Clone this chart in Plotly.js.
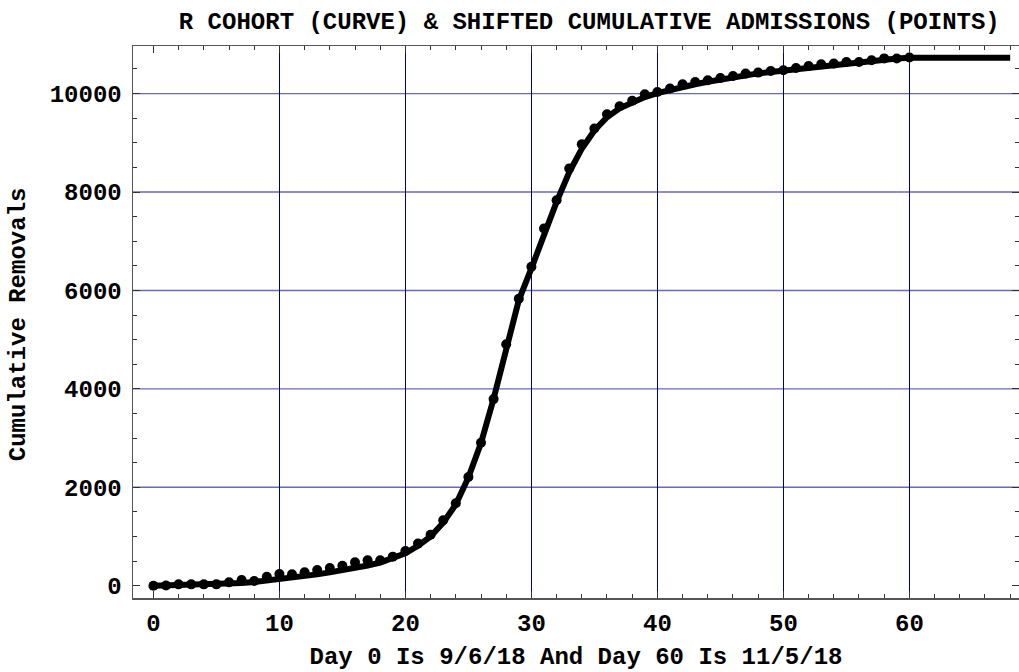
<!DOCTYPE html>
<html>
<head>
<meta charset="utf-8">
<script src="https://cdn.plot.ly/plotly-3.0.1.min.js"></script>
<style>
html, body { margin: 0; padding: 0; background: #fff; }
#chart { width: 1019px; height: 672px; }
</style>
</head>
<body>
<div id="chart"></div>
<script>
// Shifted cumulative admissions (points), day 0..60
const pointDays = [];
for (let d = 0; d <= 60; d++) pointDays.push(d);
const pointValues = [
  0, 5, 27, 27, 27, 27, 68, 116, 95, 183,
  238, 231, 271, 319, 359, 407, 474, 515, 515, 590,
  705, 855, 1035, 1330, 1675, 2210, 2905, 3792, 4905, 5830,
  6480, 7258, 7833, 8477, 8970, 9289, 9580, 9742, 9855, 9985,
  10033, 10105, 10189, 10236, 10270, 10317, 10358, 10406, 10426, 10459,
  10473, 10520, 10561, 10595, 10609, 10642, 10642, 10676, 10715, 10712,
  10735
];

// R cohort curve, day 0..68
const curveDays = [];
for (let d = 0; d <= 68; d++) curveDays.push(d);
const curveValues = [
  0, 5, 10, 15, 22, 30, 40, 55, 75, 100,
  130, 160, 195, 230, 270, 310, 360, 410, 470, 555,
  660, 810, 1000, 1280, 1650, 2200, 2900, 3800, 4850, 5800,
  6450, 7150, 7800, 8400, 8880, 9250, 9520, 9700, 9830, 9930,
  10010, 10080, 10140, 10190, 10240, 10290, 10330, 10370, 10410, 10440,
  10470, 10500, 10530, 10560, 10590, 10620, 10645, 10670, 10695, 10715,
  10730, 10730, 10730, 10730, 10730, 10730, 10730, 10730, 10730
];

const titleText = 'R COHORT (CURVE) & SHIFTED CUMULATIVE ADMISSIONS (POINTS)';
const xTitle = 'Day 0 Is 9/6/18 And Day 60 Is 11/5/18';
const yTitle = 'Cumulative Removals';
const xTickVals = [0, 10, 20, 30, 40, 50, 60];
const yTickVals = [0, 2000, 4000, 6000, 8000, 10000];
const yTickText = ['0', '2000', '4000', '6000', '8000', '10000'];

const FONT = '"Liberation Mono", "Courier New", monospace';

const traces = [
  {
    x: curveDays, y: curveValues, type: 'scatter', mode: 'lines',
    line: { color: '#000', width: 6 }, hoverinfo: 'skip', showlegend: false
  },
  {
    x: pointDays, y: pointValues, type: 'scatter', mode: 'markers',
    marker: { color: '#000', size: 10 }, showlegend: false
  }
];

const axisCommon = {
  showline: true, linecolor: '#555', linewidth: 1.5,
  mirror: 'ticks', ticks: 'inside', ticklen: 7, tickwidth: 1, tickcolor: '#333',
  zeroline: true, zerolinecolor: 'rgba(255,255,255,0)', zerolinewidth: 1,
  tickfont: { family: FONT, size: 24, color: '#000', weight: 'bold' }
};

// horizontal grid lines from the y tick values (all but zero)
const hGrid = yTickVals.filter(v => v !== 0).map(v => ({
  type: 'line', xref: 'paper', yref: 'y', x0: 0, x1: 1, y0: v, y1: v,
  layer: 'below', line: { color: 'rgb(105,105,188)', width: 1.4 }
}));

const layout = {
  width: 1019, height: 672,
  margin: { l: 133, r: 0, t: 46, b: 74 },
  paper_bgcolor: '#fff', plot_bgcolor: '#fff',
  font: { family: FONT, color: '#000' },
  title: {
    text: '<b>' + titleText + '</b>',
    font: { family: FONT, size: 24, color: '#000' },
    xref: 'paper', x: 0.515, xanchor: 'center',
    yref: 'container', y: 0.97, yanchor: 'middle'
  },
  xaxis: Object.assign({}, axisCommon, {
    range: [-1.62, 68.7],
    tickmode: 'array', tickvals: xTickVals,
    showgrid: true, gridcolor: '#000080', gridwidth: 1,
    ticklabelstandoff: 3,
    minor: { dtick: 2, tick0: 0, ticks: 'inside', ticklen: 4, tickcolor: '#333', showgrid: false },
    title: { text: '<b>' + xTitle + '</b>', font: { family: FONT, size: 24, color: '#000' }, standoff: 10 }
  }),
  yaxis: Object.assign({}, axisCommon, {
    range: [-250, 10967],
    tickmode: 'array', tickvals: yTickVals, ticktext: yTickText,
    showgrid: false,
    ticklabelstandoff: 5,
    minor: { dtick: 500, tick0: 0, ticks: 'inside', ticklen: 4, tickcolor: '#333', showgrid: false }
  }),
  shapes: hGrid,
  annotations: [{
    text: '<b>' + yTitle + '</b>', textangle: -90,
    xref: 'paper', yref: 'paper', x: -0.1298, y: 0.496,
    xanchor: 'center', yanchor: 'middle', showarrow: false,
    font: { family: FONT, size: 24, color: '#000' }
  }]
};

Plotly.newPlot('chart', traces, layout, { displayModeBar: false, staticPlot: true });
</script>
</body>
</html>
